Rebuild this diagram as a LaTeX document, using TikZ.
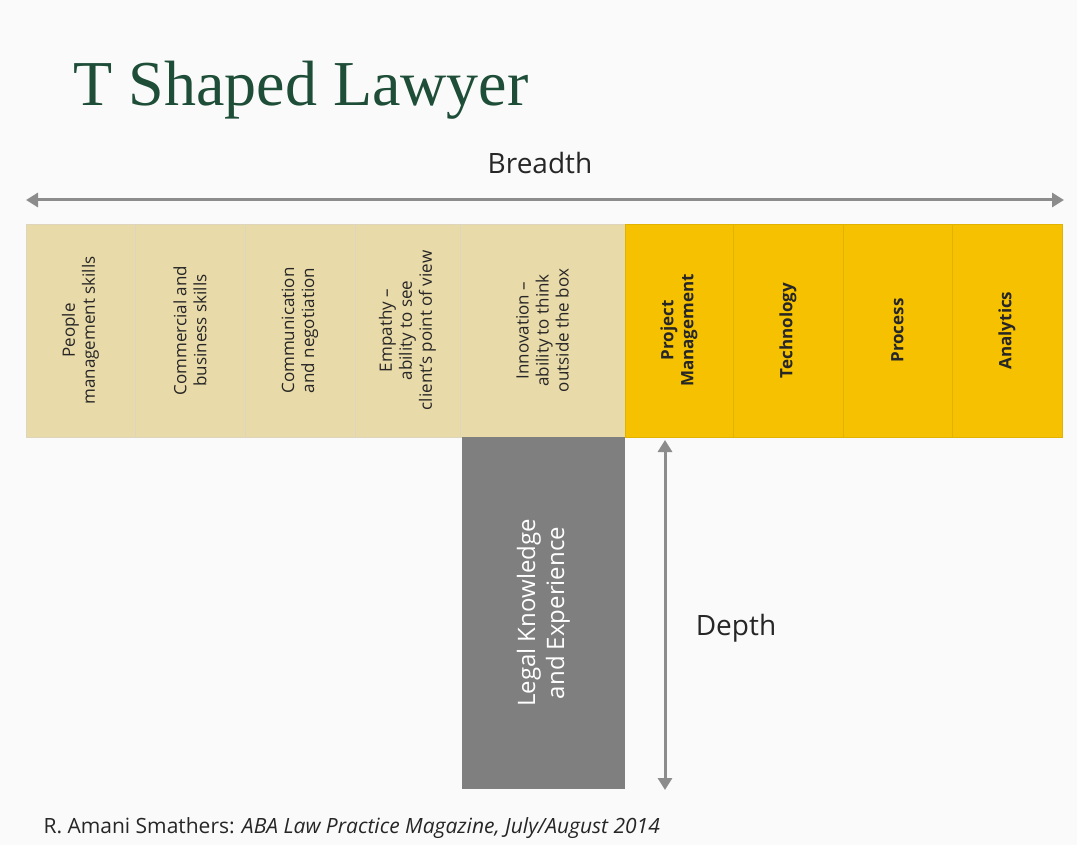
\documentclass[tikz,border=0pt]{standalone}
\usepackage{fontspec}
\setmainfont{Open Sans}
\usepackage{tikz}
\usetikzlibrary{arrows.meta,positioning}
\definecolor{titlegreen}{HTML}{1E4D38}
\definecolor{skilltan}{HTML}{E9DAA9}
\definecolor{skillgold}{HTML}{F5C100}
\definecolor{deepgray}{HTML}{7F7F7F}
\definecolor{arrowgray}{HTML}{8C8C8C}
\tikzset{
	skill/.style={rotate=90, minimum width=213, minimum height=#1, inner sep=2pt,
		outer sep=0pt, align=center, font=\fontsize{17}{20}\selectfont, anchor=center},
	soft/.style={skill=#1, fill=skilltan, draw=skilltan!85!black!60!white, text=black!85},
	hard/.style={skill=#1, fill=skillgold, draw=skillgold!92!black, text=black!85,
		font=\fontsize{17}{20}\selectfont\bfseries},
	measure/.style={draw=arrowgray, line width=3pt, {Triangle[length=12pt,width=14pt]}-{Triangle[length=12pt,width=14pt]}}
}

\begin{document}
\begin{tikzpicture}[x=1pt,y=-1pt]
	\useasboundingbox[fill=black!2] (0,0) rectangle (1077,845);

	% title and breadth
	\node[anchor=west, text=titlegreen] (title) at (70,90)
		{\fontspec{Liberation Serif}\fontsize{64}{66}\selectfont T Shaped Lawyer};
	\node[font=\fontsize{28}{30}\selectfont, text=black!85] (breadth) at (540,163) {Breadth};
	\coordinate (bl) at (26,200);
	\coordinate (br) at (1064,200);
	\draw[measure] (bl) -- (br);

	% horizontal bar of the T
	\node[soft=109] (people) at (80.5,330.5) {People\\management skills};
	\node[soft=110] (commerce) at (190,330.5) {Commercial and\\business skills};
	\node[soft=110] (comms) at (300,330.5) {Communication\\and negotiation};
	\node[soft=105] (empathy) at (407.5,330.5) {Empathy --\\ability to see\\client's point of view};
	\node[soft=165] (innov) at (542.5,330.5) {Innovation --\\ability to think\\outside the box};
	\node[hard=108] (pm) at (679,330.5) {Project\\Management};
	\node[hard=110] (tech) at (788,330.5) {Technology};
	\node[hard=109] (proc) at (897.5,330.5) {Process};
	\node[hard=110] (analytics) at (1007,330.5) {Analytics};

	% vertical bar of the T
	\node[rotate=90, minimum width=352, minimum height=163, fill=deepgray, text=white,
		align=center, outer sep=0pt, font=\fontsize{24}{29}\selectfont] (legal) at (543.5,613)
		{Legal Knowledge\\and Experience};
	\coordinate (dt) at (665,440);
	\coordinate (db) at (665,790);
	\draw[measure] (dt) -- (db);
	\node[font=\fontsize{28}{30}\selectfont, text=black!85] (depth) at (736,628) {Depth};

	% source
	\node[anchor=west, font=\fontsize{21}{23}\selectfont, text=black!85] (source) at (40,828)
		{R. Amani Smathers: \textit{ABA Law Practice Magazine, July/August 2014}};
\end{tikzpicture}
\end{document}
